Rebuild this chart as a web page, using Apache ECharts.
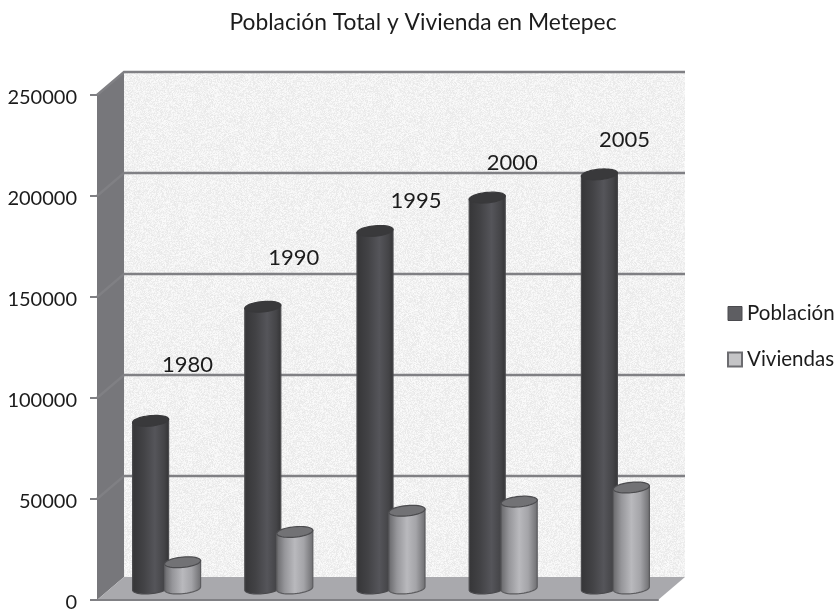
<!DOCTYPE html>
<html>
<head>
<meta charset="utf-8">
<title>Población Total y Vivienda en Metepec</title>
<script src="https://cdn.jsdelivr.net/npm/echarts@6/dist/echarts.min.js"></script>
<style>
  html, body { margin: 0; padding: 0; background: #fff; }
  #chart { width: 836px; height: 610px; }
</style>
</head>
<body>
<div id="chart"></div>
<script>
const years = ['1980', '1990', '1995', '2000', '2005'];
const poblacion = [83000, 139500, 177000, 193500, 205000];
const viviendas = [13000, 28000, 38500, 43000, 50000];
const yTicks = [0, 50000, 100000, 150000, 200000, 250000];
// where each year label sits, relative to the top of its Población column
const labelDx = [37, 31, 41, 25, 25];
const labelDy = [-56, -49, -30, -35, -34];

const FONT = 'Lato';
const DEPTH_X = 27;
const DEPTH_Y = -23;
const BAR_RX = 18;
const LINE = '#808084';

// stipple for the back wall
function wallTexture() {
    const size = 180;
    const c = document.createElement('canvas');
    c.width = c.height = size;
    const ctx = c.getContext('2d');
    const img = ctx.createImageData(size, size);
    let seed = 12345;
    for (let i = 0; i < size * size; i++) {
        seed = (seed * 1103515245 + 12345) & 0x7fffffff;
        const v = 232 + (seed >> 16) % 20;
        img.data[i * 4] = img.data[i * 4 + 1] = img.data[i * 4 + 2] = v;
        img.data[i * 4 + 3] = 255;
    }
    ctx.putImageData(img, 0, 0);
    return c;
}
const texture = wallTexture();

function renderWalls(params, api) {
    const g = params.coordSys;
    const left = g.x, right = g.x + g.width;
    const floorY = api.coord([0, 0])[1];
    const topY = api.coord([0, yTicks[yTicks.length - 1]])[1];
    const children = [
        {
            type: 'rect',
            shape: { x: left + DEPTH_X, y: topY + DEPTH_Y, width: g.width, height: floorY - topY },
            style: { fill: { image: texture, repeat: 'repeat' } }
        },
        {
            type: 'polygon',
            shape: { points: [[left, topY], [left + DEPTH_X, topY + DEPTH_Y], [left + DEPTH_X, floorY + DEPTH_Y], [left, floorY]] },
            style: { fill: '#77777b' }
        },
        {
            type: 'polygon',
            shape: { points: [[left, floorY], [left + DEPTH_X, floorY + DEPTH_Y], [right + DEPTH_X, floorY + DEPTH_Y], [right, floorY]] },
            style: { fill: '#a9a9ad' }
        }
    ];
    yTicks.forEach(function (t) {
        if (t === 0) return;
        const y = api.coord([0, t])[1];
        children.push({
            type: 'polyline',
            shape: { points: [[left, y], [left + DEPTH_X, y + DEPTH_Y], [right + DEPTH_X, y + DEPTH_Y]] },
            style: { fill: 'none', stroke: LINE, lineWidth: 2.4 }
        });
    });
    return { type: 'group', children: children };
}

// lower half of a tilted ellipse, left to right
function lowerArc(cx, cy, rx, ry, tilt) {
    const pts = [];
    for (let i = 0; i <= 24; i++) {
        const t = Math.PI - Math.PI * i / 24;
        pts.push([cx + rx * Math.cos(t), cy + ry * Math.sin(t) - tilt * Math.cos(t)]);
    }
    return pts;
}
function fullEllipse(cx, cy, rx, ry, tilt) {
    const pts = [];
    for (let i = 0; i < 48; i++) {
        const t = Math.PI * 2 * i / 48;
        pts.push([cx + rx * Math.cos(t), cy + ry * Math.sin(t) - tilt * Math.cos(t)]);
    }
    return pts;
}

function cylinder(side, stops, capFill, capStroke, edge, withLabel) {
    return function (params, api) {
        const i = api.value(0);
        const top = api.coord([i, api.value(1)]);
        const base = api.coord([i, 0]);
        const cx = top[0] + DEPTH_X / 2 + side;
        const yTop = top[1] + DEPTH_Y / 2;
        const yBase = base[1] + DEPTH_Y / 2;
        const ry = 5.2, tilt = 1.6;
        const body = [[cx - BAR_RX, yTop + tilt]].concat(
            lowerArc(cx, yBase, BAR_RX, ry, tilt),
            [[cx + BAR_RX, yTop - tilt]]
        );
        const fill = new echarts.graphic.LinearGradient(cx - BAR_RX, 0, cx + BAR_RX, 0, stops, true);
        const children = [
            {
                type: 'polygon',
                shape: { points: body },
                style: { fill: fill, stroke: edge, lineWidth: 1.2 }
            },
            {
                type: 'polygon',
                shape: { points: fullEllipse(cx, yTop, BAR_RX, ry, tilt) },
                style: { fill: capFill, stroke: capStroke, lineWidth: 1.2 }
            }
        ];
        if (withLabel) {
            children.push({
                type: 'text',
                style: {
                    x: cx + labelDx[i],
                    y: yTop + labelDy[i],
                    text: years[i],
                    fill: '#1c1c1c',
                    font: '22px ' + FONT,
                    textAlign: 'center',
                    textVerticalAlign: 'middle'
                }
            });
        }
        return { type: 'group', children: children };
    };
}

const chart = echarts.init(document.getElementById('chart'), null, { renderer: 'canvas' });

chart.setOption({
    animation: false,
    backgroundColor: '#ffffff',
    title: {
        text: 'Población Total y Vivienda en Metepec',
        left: 418,
        top: 6,
        textAlign: 'center',
        textStyle: { color: '#1c1c1c', fontSize: 22.8, fontWeight: 'normal', fontFamily: FONT }
    },
    legend: {
        orient: 'vertical',
        left: 727,
        top: 303,
        padding: 0,
        itemWidth: 14,
        itemHeight: 14,
        itemGap: 25,
        selectedMode: false,
        textStyle: { color: '#1c1c1c', fontSize: 20.5, fontFamily: FONT },
        data: [
            { name: 'Población', icon: 'rect', itemStyle: { color: '#5e5e62', borderColor: '#4a4a4e', borderWidth: 1 } },
            { name: 'Viviendas', icon: 'rect', itemStyle: { color: '#c4c4c6', borderColor: '#6c6c70', borderWidth: 2 } }
        ]
    },
    grid: { left: 97, right: 178, top: 95, bottom: 10, outerBoundsMode: 'none' },
    xAxis: {
        type: 'category',
        data: years,
        z: 3,
        axisLine: { show: true, lineStyle: { color: LINE, width: 2 } },
        axisTick: { show: false },
        axisLabel: { show: false }
    },
    yAxis: {
        type: 'value',
        min: 0,
        max: 250000,
        interval: 50000,
        z: 3,
        axisLine: { show: false },
        axisTick: { show: true, length: 7, lineStyle: { color: LINE, width: 2 } },
        splitLine: { show: false },
        axisLabel: {
            margin: 20,
            formatter: function (v) { return '{n|' + v + '}'; },
            rich: {
                n: { color: '#1c1c1c', fontSize: 20, fontFamily: FONT, padding: [5, 0, 0, 0] }
            }
        }
    },
    series: [
        {
            name: 'walls',
            type: 'custom',
            z: 1,
            clip: false,
            silent: true,
            renderItem: renderWalls,
            data: [[0, 0]]
        },
        {
            name: 'Población',
            type: 'custom',
            z: 2,
            clip: false,
            renderItem: cylinder(-16, [
                { offset: 0, color: '#363638' },
                { offset: 0.3, color: '#424245' },
                { offset: 0.62, color: '#55555a' },
                { offset: 0.88, color: '#444447' },
                { offset: 1, color: '#353537' }
            ], '#39393b', '#39393b', '#4a4a4d', true),
            itemStyle: { color: '#5e5e62' },
            data: poblacion.map(function (v, i) { return [i, v]; })
        },
        {
            name: 'Viviendas',
            type: 'custom',
            z: 3,
            clip: false,
            renderItem: cylinder(16, [
                { offset: 0, color: '#6a6a6d' },
                { offset: 0.22, color: '#96969a' },
                { offset: 0.5, color: '#b9b9bd' },
                { offset: 0.75, color: '#a4a4a8' },
                { offset: 1, color: '#6f6f72' }
            ], '#727275', '#4c4c4f', '#5c5c5f', false),
            itemStyle: { color: '#c4c4c6' },
            data: viviendas.map(function (v, i) { return [i, v]; })
        }
    ]
});
</script>
</body>
</html>
